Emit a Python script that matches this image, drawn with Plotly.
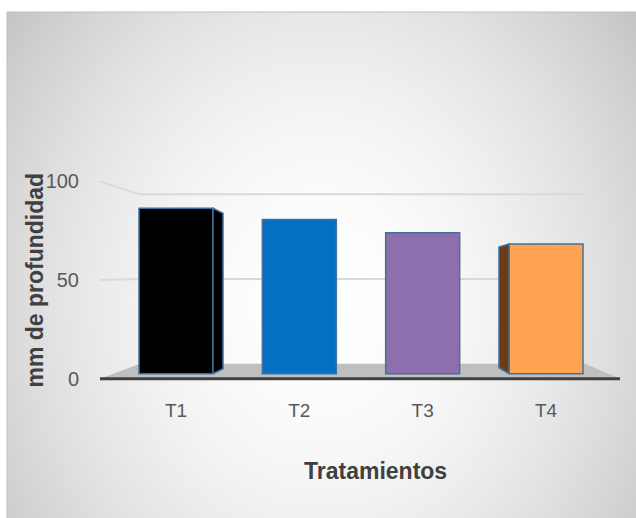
import numpy as np
import plotly.graph_objects as go

# Data
categories = ["T1", "T2", "T3", "T4"]
values = [88, 82, 75, 69]
bar_colors = ["#000000", "#0570C2", "#8D6FAE", "#FFA252"]
side_colors = ["#000000", None, None, "#6A3D1A"]
y_ticks = [0, 50, 100]

# Layout is laid out on a 636 x 518 grid; the page itself is a little taller
W, H_GRID = 636, 518
H_FIG = 530

# Pseudo-3D geometry (grid pixels from the top-left corner)
FRONT_Y0, FRONT_SCALE = 378, 1.97   # front edge of the floor, value axis scale
BACK_Y0, BACK_SCALE = 363, 1.69     # back wall
BAR_Y0, BAR_SCALE = 373, 1.877      # plane of the bar fronts
WALL_X_FRONT, WALL_X_BACK, WALL_X_END = 100, 140, 583
FLOOR_X_END_BACK, FLOOR_X_END_FRONT = 585, 620
PLOT_L, PLOT_R, PLOT_T = 114.33, 607.67, 170


def fx(x):
    return x / W


def fy(y):
    return 1 - y / H_GRID


fig = go.Figure()

# Chart-area background: radial grey gradient
gx = np.linspace(7, W, 70)
gy = np.linspace(12, H_GRID, 60)
GX, GY = np.meshgrid(gx, gy)
d = np.sqrt(((GX - 321) / 280) ** 2 + ((GY - 300) / 330) ** 2)
shade = 255 - 31 * d ** 1.8
fig.add_trace(go.Heatmap(
    x=gx, y=gy, z=shade, zmin=0, zmax=255, zsmooth="best",
    colorscale=[[0, "rgb(0,0,0)"], [1, "rgb(255,255,255)"]],
    showscale=False, hoverinfo="skip", xaxis="x", yaxis="y"))

# Floor
fig.add_trace(go.Scatter(
    x=[WALL_X_FRONT, WALL_X_BACK, FLOOR_X_END_BACK, FLOOR_X_END_FRONT],
    y=[FRONT_Y0, BACK_Y0, BACK_Y0, FRONT_Y0],
    fill="toself", fillcolor="#BFBFBF", mode="none",
    hoverinfo="skip", showlegend=False, xaxis="x", yaxis="y"))

# Gridlines on side and back walls
for v in y_ticks[1:]:
    fig.add_trace(go.Scatter(
        x=[WALL_X_FRONT, WALL_X_BACK, WALL_X_END],
        y=[FRONT_Y0 - FRONT_SCALE * v, BACK_Y0 - BACK_SCALE * v, BACK_Y0 - BACK_SCALE * v],
        mode="lines", line=dict(color="#D9D9D9", width=2),
        hoverinfo="skip", showlegend=False, xaxis="x", yaxis="y"))

# Front edge of the floor
fig.add_trace(go.Scatter(
    x=[WALL_X_FRONT, FLOOR_X_END_FRONT], y=[FRONT_Y0, FRONT_Y0],
    mode="lines", line=dict(color="#404040", width=3),
    hoverinfo="skip", showlegend=False, xaxis="x", yaxis="y"))

# Bars (numeric positions, labelled with the category names)
positions = list(range(len(categories)))
BAR_W = 0.6
fig.add_trace(go.Bar(
    x=positions, y=values, width=BAR_W,
    marker=dict(color=bar_colors, line=dict(color="#41719C", width=1.5)),
    customdata=categories, hovertemplate="%{customdata}: %{y}<extra></extra>",
    showlegend=False, xaxis="x2", yaxis="y2"))

# Visible side faces of the outer bars
unit_px = (PLOT_R - PLOT_L) / len(categories)
depth = 10 / unit_px
for i, (v, c) in enumerate(zip(values, side_colors)):
    if c is None:
        continue
    if i == 0:
        edge, out = i + BAR_W / 2, i + BAR_W / 2 + depth
        top_drop, bot_rise = 5, 5
    else:
        edge, out = i - BAR_W / 2, i - BAR_W / 2 - depth
        top_drop, bot_rise = 3, 6
    fig.add_trace(go.Scatter(
        x=[edge, out, out, edge, edge],
        y=[0, bot_rise / BAR_SCALE, v - top_drop / BAR_SCALE, v, 0],
        fill="toself", fillcolor=c, mode="lines",
        line=dict(color="#41719C", width=1.5),
        hoverinfo="skip", showlegend=False, xaxis="x2", yaxis="y2"))

# Carrier trace for the value axis
fig.add_trace(go.Scatter(
    x=positions, y=values, mode="markers", marker=dict(opacity=0),
    hoverinfo="skip", showlegend=False, xaxis="x2", yaxis="y3"))

fig.update_layout(
    width=W, height=H_FIG,
    margin=dict(l=0, r=0, t=0, b=0),
    paper_bgcolor="white",
    plot_bgcolor="rgba(0,0,0,0)",
    font=dict(family="Liberation Sans, Arial, sans-serif", color="#595959"),
    xaxis=dict(domain=[fx(7), 1], range=[7, W], visible=False, fixedrange=True),
    yaxis=dict(domain=[0, fy(12)], range=[H_GRID, 12], visible=False, fixedrange=True),
    xaxis2=dict(domain=[fx(PLOT_L), fx(PLOT_R)], anchor="y2", range=[-0.5, 3.5],
                tickvals=positions, ticktext=categories,
                showgrid=False, showline=False, zeroline=False, ticks="",
                tickfont=dict(size=19, color="#595959"), ticklabelstandoff=18),
    yaxis2=dict(domain=[fy(FRONT_Y0), fy(PLOT_T)], anchor="x2",
                range=[(BAR_Y0 - FRONT_Y0) / BAR_SCALE, (BAR_Y0 - PLOT_T) / BAR_SCALE],
                visible=False),
    yaxis3=dict(overlaying="y2", anchor="free", position=fx(79), side="left",
                range=[0, (FRONT_Y0 - PLOT_T) / FRONT_SCALE],
                tickvals=y_ticks, showgrid=False, showline=False, zeroline=False,
                ticks="", tickfont=dict(size=20, color="#595959")),
    annotations=[
        dict(text="<b>Tratamientos</b>", x=fx(375), y=fy(470),
             xref="paper", yref="paper", showarrow=False,
             xanchor="center", yanchor="middle",
             font=dict(size=23, color="#404040")),
        dict(text="<b>mm de profundidad</b>", x=fx(35), y=fy(280), textangle=-90,
             xref="paper", yref="paper", showarrow=False,
             xanchor="center", yanchor="middle",
             font=dict(size=23, color="#404040")),
    ],
    shapes=[
        dict(type="line", xref="paper", yref="paper", x0=fx(7), x1=1,
             y0=fy(12), y1=fy(12), line=dict(color="#BFBFBF", width=1)),
        dict(type="line", xref="paper", yref="paper", x0=fx(7), x1=fx(7),
             y0=0, y1=fy(12), line=dict(color="#BFBFBF", width=1)),
    ],
)

fig.write_html("out.html")
